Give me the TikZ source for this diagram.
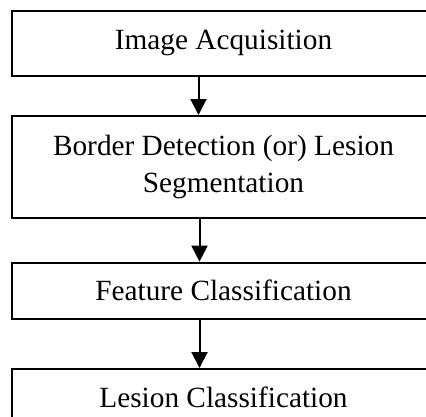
\documentclass[tikz,border=0pt]{standalone}
\usepackage{fontspec}
\setmainfont{Liberation Serif}
\usetikzlibrary{arrows.meta}

\begin{document}
\begin{tikzpicture}[x=1pt, y=1pt,
    box/.style={rectangle, draw, line width=2pt, minimum width=423pt, inner sep=0pt, align=center, font=\fontsize{29.3}{36.7}\selectfont},
    flow/.style={-{Triangle[width=16pt,length=16pt]}, line width=2pt}]

    \useasboundingbox (0,0) rectangle (426,-416);
    \clip (0,0) rectangle (426,-416);

    \node[box, minimum height=64.8pt] (acq) at (223.5,-43.1) {Image Acquisition};
    \node[box, minimum height=102pt] (seg) at (223.5,-167) {Border Detection (or) Lesion\\Segmentation};
    \node[box, minimum height=56.3pt] (feat) at (223.5,-290.8) {Feature Classification};
    \node[box, minimum height=56pt] (lesion) at (223.5,-397) {Lesion Classification};

    \draw[flow] ([xshift=-25pt]acq.south) -- ([xshift=-25pt]seg.north);
    \draw[flow] ([xshift=-24pt]seg.south) -- ([xshift=-24pt]feat.north);
    \draw[flow] ([xshift=-24pt]feat.south) -- ([xshift=-24pt]lesion.north);
\end{tikzpicture}
\end{document}
